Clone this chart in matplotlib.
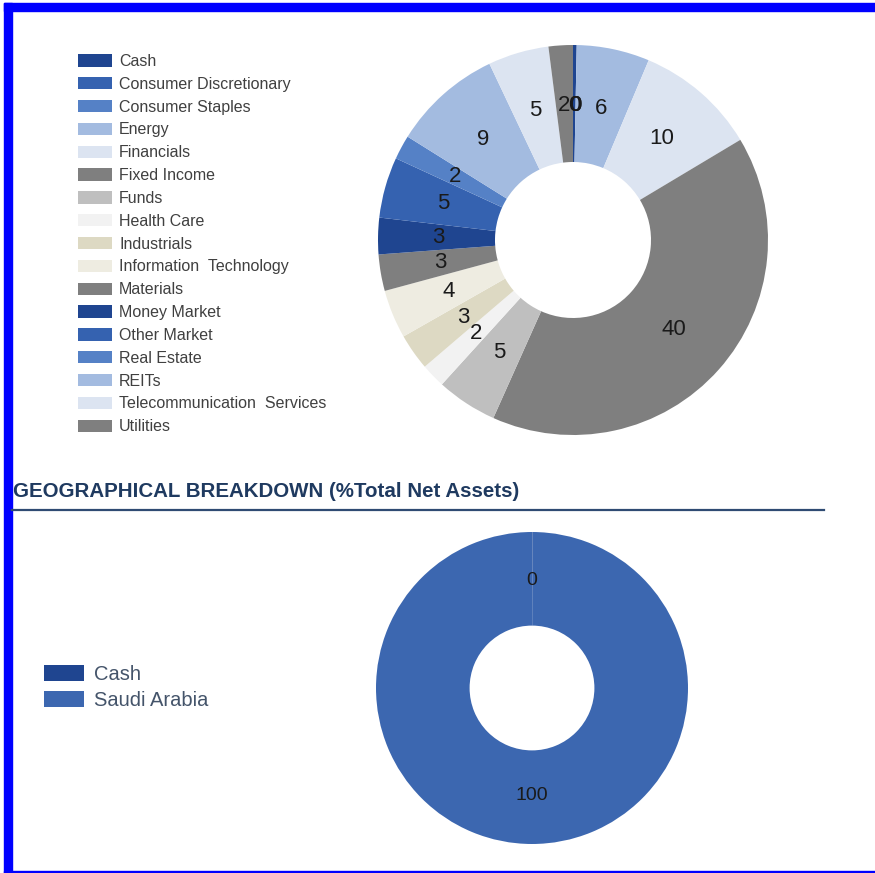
import matplotlib
matplotlib.use("Agg")
import matplotlib.pyplot as plt
import numpy as np
from matplotlib.lines import Line2D
from matplotlib.patches import Rectangle

plt.rcParams['font.family'] = ['Liberation Sans', 'DejaVu Sans']

# sector breakdown (clockwise from 12 o'clock)
sectors = ["Cash", "Consumer Discretionary", "Consumer Staples", "Energy",
           "Financials", "Fixed Income", "Funds", "Health Care", "Industrials",
           "Information  Technology", "Materials", "Money Market", "Other Market",
           "Real Estate", "REITs", "Telecommunication  Services", "Utilities"]
sector_vals = [0.3, 0, 0, 6, 10, 40, 5, 2, 3, 4, 3, 3, 5, 2, 9, 5, 2]
sector_colors = ["#1f4590", "#3562b0", "#5581c6", "#a3bbe0", "#dce4f1",
                 "#7f7f7f", "#bfbfbf", "#f2f2f2", "#ddd9c3", "#eeece1",
                 "#7f7f7f", "#1f4590", "#3562b0", "#5581c6", "#a3bbe0",
                 "#dce4f1", "#7f7f7f"]

# geographical breakdown
regions = ["Cash", "Saudi Arabia"]
region_vals = [0.05, 100]
region_colors = ["#1f4590", "#3c67b0"]

W, H = 875, 873
fig = plt.figure(figsize=(W / 100, H / 100), dpi=100)


def fx(px):
    return px / W


def fy(py):
    return 1 - py / H


def donut(cx, cy, r, vals, colors, fs):
    ax = fig.add_axes([fx(cx - r), fy(cy + r), 2 * r / W, 2 * r / H])
    wedges, _ = ax.pie(vals, colors=colors, startangle=90, counterclock=False,
                       wedgeprops=dict(width=0.6, linewidth=0))
    for w, v in zip(wedges, vals):
        t = np.deg2rad((w.theta1 + w.theta2) / 2)
        ax.text(0.69 * np.cos(t), 0.69 * np.sin(t), f"{v:.0f}", ha="center",
                va="center", fontsize=fs, color="#1a1a1a")
    ax.set_xlim(-1, 1)
    ax.set_ylim(-1, 1)
    ax.set_aspect("equal")
    ax.axis("off")
    return wedges


w1 = donut(573, 240, 195, sector_vals, sector_colors, 16)
fig.legend(w1, sectors, loc="upper left", bbox_to_anchor=(fx(78), fy(54)),
           frameon=False, fontsize=11.5, borderpad=0, borderaxespad=0,
           handlelength=2.13, handleheight=0.81, handletextpad=0.44,
           labelspacing=0.49, labelcolor="#404040")

fig.text(fx(13), fy(497), "GEOGRAPHICAL BREAKDOWN (%Total Net Assets)",
         fontsize=14.8, fontweight="bold", color="#1f3a60", va="baseline")
fig.add_artist(Line2D([fx(12), fx(824)], [fy(510), fy(510)], color="#2f4b73",
                      linewidth=1.6))

w2 = donut(532, 688, 156, region_vals, region_colors, 14)
fig.legend(w2, regions, loc="upper left", bbox_to_anchor=(fx(44), fy(665)),
           frameon=False, fontsize=14.5, borderpad=0, borderaxespad=0,
           handlelength=2.0, handleheight=0.85, handletextpad=0.5,
           labelspacing=0.35, labelcolor="#44546a")

# blue frame
blue = "#0000ff"
fig.add_artist(Rectangle((fx(4), fy(11)), fx(871), 8 / H, color=blue,
                         transform=fig.transFigure))
fig.add_artist(Rectangle((fx(4), 0), 8 / W, fy(3), color=blue,
                         transform=fig.transFigure))
fig.add_artist(Rectangle((fx(4), 0), fx(871), 2.5 / H, color=blue,
                         transform=fig.transFigure))

fig.savefig("out.png", dpi=100)
